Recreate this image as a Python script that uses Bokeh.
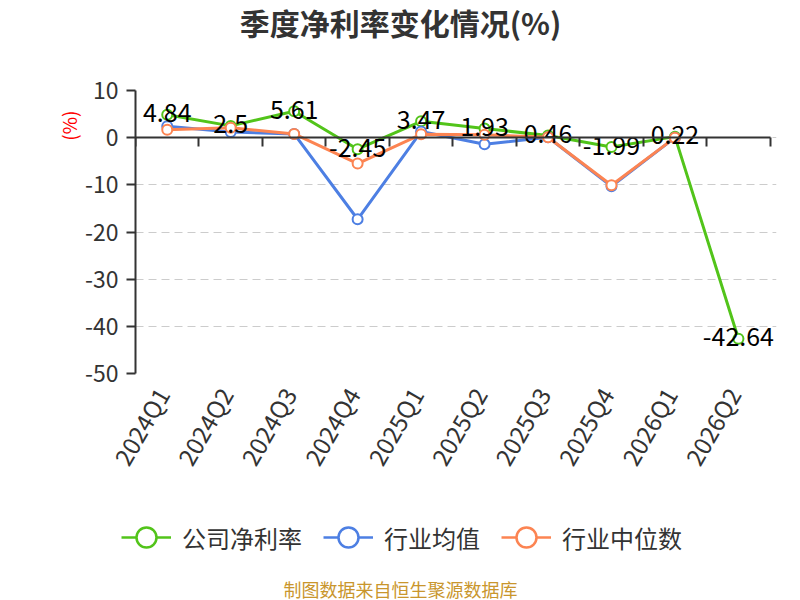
import math
from bokeh.plotting import figure
from bokeh.layouts import column, row
from bokeh.models import (Range1d, LinearAxis, FixedTicker, CustomJSTickFormatter,
                          Label, Legend, LegendItem, ColumnDataSource, Title)
from bokeh.embed import file_html
from bokeh.resources import INLINE
from bokeh.core.properties import value

# ---------------- data ----------------
quarters = ["2024Q1", "2024Q2", "2024Q3", "2024Q4", "2025Q1",
            "2025Q2", "2025Q3", "2025Q4", "2026Q1", "2026Q2"]
company = [4.84, 2.5, 5.61, -2.45, 3.47, 1.93, 0.46, -1.99, 0.22, -42.64]
industry_avg = [2.4, 1.2, 0.8, -17.3, 1.3, -1.4, 0.1, -10.3, 0.0]
industry_median = [1.7, 2.1, 0.8, -5.5, 0.7, 0.6, 0.1, -10.1, 0.0]
y_ticks = [-50, -40, -30, -20, -10, 0, 10]
series_names = ["公司净利率", "行业均值", "行业中位数"]
colors = ["#52c41a", "#4d7fe3", "#fc8452"]
title_text = "季度净利率变化情况(%)"
unit_text = "(%)"
source_text = "制图数据来自恒生聚源数据库"

FONT = "Noto Sans CJK SC"
n = len(quarters)
x_pos = [i + 0.5 for i in range(n)]
label_pos = [i + 0.42 for i in range(n)]   # rotated labels end just left of centre
PLOT_LEFT = 135          # px, left edge of plotting area
CENTER_X = 400           # px, horizontal centre of the chart


def blank_fig(h):
    f = figure(width=800, height=h, title=None, x_range=Range1d(0, 1), y_range=Range1d(0, 1),
               x_axis_type=None, y_axis_type=None, toolbar_location=None,
               output_backend="svg", min_border=0)
    f.outline_line_color = None
    return f


# ---------------- title figure ----------------
top = blank_fig(60)
top.add_layout(Label(x=0, y=1, x_offset=CENTER_X - PLOT_LEFT, y_offset=-21, text=title_text,
                     text_font=FONT, text_font_size="30px", text_font_style="bold",
                     text_color="#333333", text_align="center", text_baseline="middle"))

# ---------------- main chart ----------------
p = figure(width=800, height=440, title=None, output_backend="svg", toolbar_location=None,
           x_range=Range1d(0, n + 0.1), y_range=Range1d(min(y_ticks), max(y_ticks)),
           x_axis_type=None,
           min_border_left=PLOT_LEFT, min_border_right=24, min_border_top=30,
           min_border_bottom=127)
p.outline_line_color = None

yax = p.yaxis[0]
yax.ticker = FixedTicker(ticks=y_ticks)
yax.formatter = CustomJSTickFormatter(code="return String(tick)")
yax.axis_line_color = "#333333"
yax.axis_line_width = 2
yax.major_tick_line_color = "#333333"
yax.major_tick_line_width = 2
yax.major_tick_out = 9
yax.major_tick_in = 0
yax.minor_tick_line_color = None
yax.major_label_text_font = FONT
yax.major_label_text_font_size = "23px"
yax.major_label_text_color = "#333333"
yax.major_label_standoff = 8

p.ygrid.grid_line_color = "#cccccc"
p.ygrid.grid_line_dash = "8 5"
p.ygrid.grid_line_width = 1

cat_axis = LinearAxis(ticker=FixedTicker(ticks=label_pos),
                      formatter=CustomJSTickFormatter(args=dict(labels=quarters),
                                                      code="return labels[Math.floor(tick)]"))
cat_axis.axis_line_color = None
cat_axis.major_tick_line_color = None
cat_axis.minor_tick_line_color = None
cat_axis.major_label_orientation = math.radians(60)
cat_axis.major_label_text_font = FONT
cat_axis.major_label_text_font_size = "24px"
cat_axis.major_label_text_color = "#333333"
cat_axis.major_label_standoff = 10
p.add_layout(cat_axis, "below")

zero_axis = LinearAxis(fixed_location=0, bounds=(0, n),
                       ticker=FixedTicker(ticks=list(range(n + 1))),
                       formatter=CustomJSTickFormatter(code="return ''"))
zero_axis.axis_line_color = "#333333"
zero_axis.axis_line_width = 2
zero_axis.major_tick_line_color = "#333333"
zero_axis.major_tick_line_width = 2
zero_axis.major_tick_out = 9
zero_axis.major_tick_in = 0
zero_axis.minor_tick_line_color = None
zero_axis.major_label_text_font_size = "0px"
p.add_layout(zero_axis, "below")

p.add_layout(Title(text=unit_text, align="right", offset=20, standoff=0, text_font=FONT,
                   text_font_size="19px", text_font_style="normal", text_color="#ff0000"),
             "left")

for vals, color in zip([company, industry_avg, industry_median], colors):
    src = ColumnDataSource(dict(x=x_pos[:len(vals)], y=vals))
    p.line("x", "y", source=src, line_color=color, line_width=3)
    p.scatter("x", "y", source=src, marker="circle", size=10, fill_color="white",
              line_color=color, line_width=2)

lbl_src = ColumnDataSource(dict(x=x_pos, y=company, t=[f"{v:g}" for v in company]))
p.text("x", "y", "t", source=lbl_src, text_font=value(FONT), text_font_size="25px",
       text_align="center", text_baseline="middle", y_offset=-2, text_color="#000000")

# ---------------- legend + source figure ----------------
bot = blank_fig(100)
items = []
for name, color in zip(series_names, colors):
    d = ColumnDataSource(dict(x=[float("nan")], y=[float("nan")]))
    rl = bot.line("x", "y", source=d, line_color=color, line_width=2.5)
    rs = bot.scatter("x", "y", source=d, marker="circle", size=20, fill_color="white",
                     line_color=color, line_width=2.5)
    items.append(LegendItem(label=name, renderers=[rl, rs]))
legend = Legend(items=items, orientation="horizontal", location=(121, 37),
                glyph_width=50, glyph_height=52, label_standoff=11, spacing=21,
                padding=0, margin=0, border_line_color=None, background_fill_alpha=0,
                label_text_font=FONT, label_text_font_size="24px",
                label_text_color="#333333")
bot.add_layout(legend, "center")
bot.add_layout(Label(x=0, y=0, x_offset=CENTER_X, y_offset=12, text=source_text,
                     text_font=FONT, text_font_size="18px", text_color="#c9962d",
                     text_align="center", text_baseline="middle"))

layout = column(top, p, row(bot), spacing=0)
open("out.html", "w").write(file_html(layout, INLINE))
